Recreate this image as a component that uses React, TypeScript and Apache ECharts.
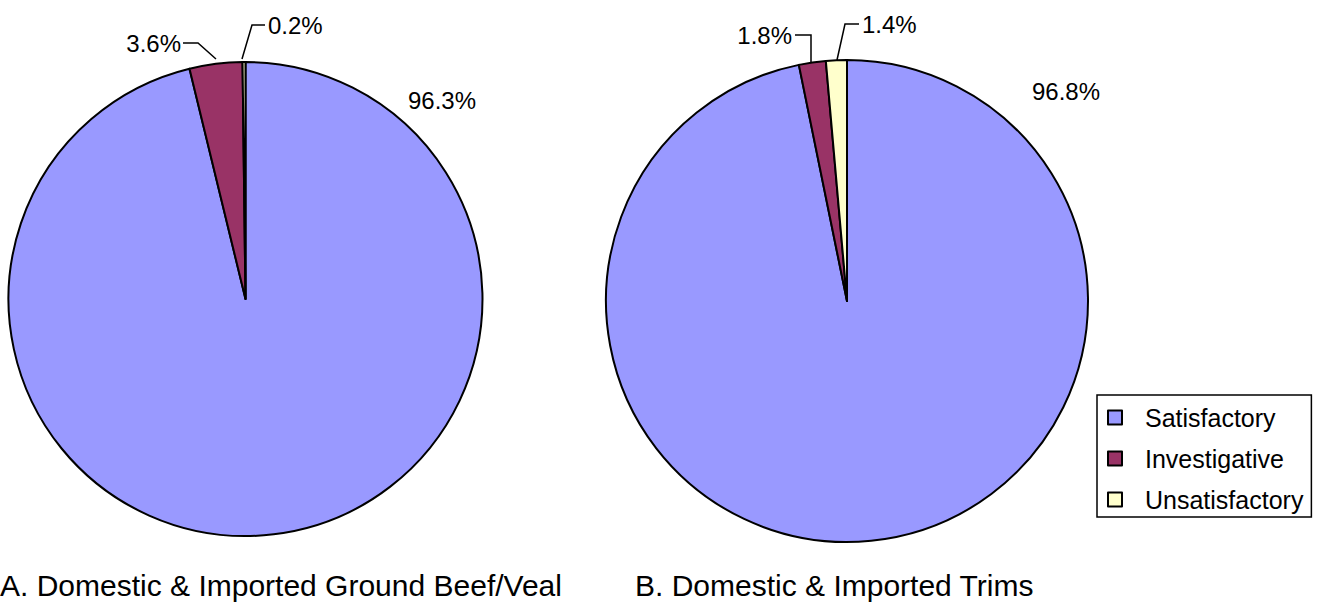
import React, { useEffect, useRef } from "react";
import * as echarts from "echarts";

// Result categories shared by both pies
const categories = ["Satisfactory", "Investigative", "Unsatisfactory"];
const categoryColors = ["#9999FF", "#993366", "#FFFFCC"];

// Percent of samples in each category
const groundBeefVeal = [96.3, 3.6, 0.2];
const trims = [96.8, 1.8, 1.4];

const chartTitles = [
  "A. Domestic & Imported Ground Beef/Veal",
  "B. Domestic & Imported Trims",
];

const FONT = "'Liberation Sans', Arial, Helvetica, sans-serif";

type LabelSpot = {
  x: number;
  y: number;
  align: "left" | "right" | "center";
  line?: number[][];
};

// Label placement for each slice (page coordinates)
const labelSpotsA: LabelSpot[] = [
  { x: 442, y: 100, align: "center" },
  { x: 181, y: 43, align: "right", line: [[216, 59], [198, 43], [183, 43]] },
  { x: 268, y: 25, align: "left", line: [[242, 59], [252, 25], [265, 25]] },
];
const labelSpotsB: LabelSpot[] = [
  { x: 1066, y: 91, align: "center" },
  { x: 792, y: 35, align: "right", line: [[811, 62], [811, 35], [795, 35]] },
  { x: 862, y: 24, align: "left", line: [[837, 60], [845, 24], [859, 24]] },
];

function makeSeries(
  values: number[],
  center: [number, number],
  radius: number,
  spots: LabelSpot[]
) {
  return {
    type: "pie",
    center,
    radius,
    startAngle: 90,
    clockwise: true,
    avoidLabelOverlap: false,
    itemStyle: { borderColor: "#000", borderWidth: 2 },
    emphasis: { disabled: true },
    label: {
      show: true,
      position: "outside",
      formatter: (p: any) => `${p.value}%`,
      color: "#000",
      fontFamily: FONT,
      fontSize: 24,
    },
    labelLine: {
      show: true,
      lineStyle: { color: "#000", width: 1.5 },
    },
    labelLayout: (p: any) => {
      const s = spots[p.dataIndex];
      const out: any = {
        x: s.x,
        y: s.y,
        align: s.align,
        verticalAlign: "middle",
      };
      if (s.line) out.labelLinePoints = s.line;
      return out;
    },
    data: values.map((v, i) => ({
      name: categories[i],
      value: v,
      itemStyle: { color: categoryColors[i] },
      labelLine: { show: !!spots[i].line },
    })),
  };
}

const titleStyle = {
  fontFamily: FONT,
  fontSize: 30,
  fontWeight: "normal",
  color: "#000",
};

export default function App() {
  const ref = useRef<HTMLDivElement>(null);

  useEffect(() => {
    if (!ref.current) return;
    const chart = echarts.init(ref.current, null, { renderer: "svg" });
    chart.setOption({
      animation: false,
      backgroundColor: "#fff",
      color: categoryColors,
      title: [
        { text: chartTitles[0], left: 0, top: 570, padding: 0, textStyle: titleStyle },
        { text: chartTitles[1], left: 635, top: 570, padding: 0, textStyle: titleStyle },
      ],
      legend: {
        orient: "vertical",
        left: 1097,
        top: 395,
        data: categories,
        icon: "rect",
        itemWidth: 14,
        itemHeight: 14,
        itemGap: 16,
        padding: [10, 8, 5, 10],
        borderColor: "#000",
        borderWidth: 1.5,
        borderRadius: 0,
        textStyle: {
          fontFamily: FONT,
          fontSize: 25,
          lineHeight: 25,
          color: "#000",
          padding: [0, 0, 0, 18],
        },
        selectedMode: false,
      },
      series: [
        makeSeries(groundBeefVeal, [245.5, 299], 237, labelSpotsA),
        makeSeries(trims, [847, 301], 241, labelSpotsB),
      ],
    });
    return () => chart.dispose();
  }, []);

  return (
    <div
      ref={ref}
      style={{ position: "fixed", left: 0, top: 0, width: 1321, height: 603 }}
    />
  );
}
